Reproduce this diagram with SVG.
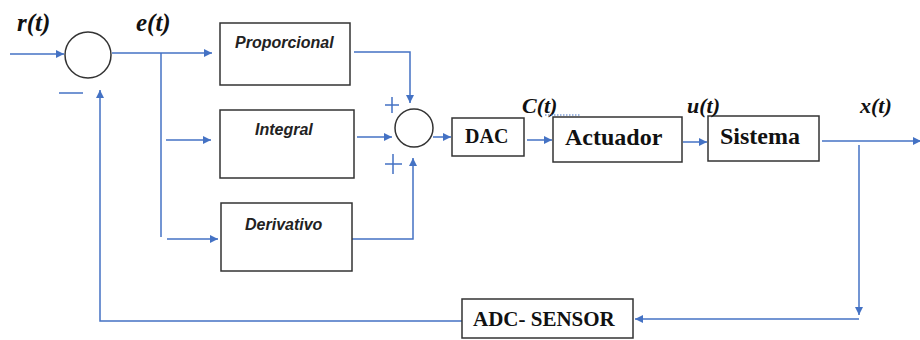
<svg xmlns="http://www.w3.org/2000/svg" width="920" height="340" viewBox="0 0 920 340">
<defs>
<marker id="arr" viewBox="0 0 10 10" refX="10" refY="5" markerWidth="8" markerHeight="8" markerUnits="userSpaceOnUse" orient="auto">
<path d="M0,0 L10,5 L0,10 z" fill="#4472C4"/>
</marker>
<style>
.box{fill:#fff;stroke:#333;stroke-width:1.5}
.sum{fill:#fff;stroke:#333;stroke-width:1.5}
.ln{fill:none;stroke:#4472C4;stroke-width:1.5}
.pid{font-family:"Liberation Sans",Arial,sans-serif;font-weight:bold;font-style:italic;font-size:16px;fill:#222}
.blk{font-family:"Liberation Serif","Times New Roman",serif;font-weight:bold;fill:#111}
.sig{font-family:"Liberation Serif","Times New Roman",serif;font-weight:bold;font-style:italic;fill:#111}
</style>
</defs>
<rect width="920" height="340" fill="#fff"/>

<g id="connectors">
<path class="ln" d="M10,54 L64,54" marker-end="url(#arr)"/>
<path class="ln" d="M112,53 L212,53" marker-end="url(#arr)"/>
<path class="ln" d="M161,53 L161,237"/>
<path class="ln" d="M166,140 L211,140" marker-end="url(#arr)"/>
<path class="ln" d="M167,239 L218,239" marker-end="url(#arr)"/>
<path class="ln" d="M354,52 L410,52 L410,103" marker-end="url(#arr)"/>
<path class="ln" d="M357,137 L392,137" marker-end="url(#arr)"/>
<path class="ln" d="M352,239 L413,239 L413,158" marker-end="url(#arr)"/>
<path class="ln" d="M433,137 L451,137" marker-end="url(#arr)"/>
<path class="ln" d="M527,140 L552,140" marker-end="url(#arr)"/>
<path class="ln" d="M683,142 L707,142" marker-end="url(#arr)"/>
<path class="ln" d="M822,141 L921,141" marker-end="url(#arr)"/>
<path class="ln" d="M859,145 L859,315" marker-end="url(#arr)"/>
<path class="ln" d="M859,319 L635,319" marker-end="url(#arr)"/>
<path class="ln" d="M462,321 L100,321 L100,90" marker-end="url(#arr)"/>
</g>

<g id="sum1">
<circle class="sum" cx="88" cy="55" r="23"/>
<path class="ln" d="M59,93 L83,93"/>
</g>

<g id="sum2">
<circle class="sum" cx="414" cy="128" r="19"/>
<path class="ln" d="M385,105 L399,105 M392,97 L392,113"/>
<path class="ln" d="M385,164 L402,164 M393,154 L393,174"/>
</g>

<g id="proporcional">
<rect class="box" x="220" y="23" width="130" height="62"/>
<text class="pid" x="235" y="48">Proporcional</text>
</g>
<g id="integral">
<rect class="box" x="220" y="110" width="134" height="68"/>
<text class="pid" x="255" y="135">Integral</text>
</g>
<g id="derivativo">
<rect class="box" x="221" y="203" width="131" height="68"/>
<text class="pid" x="245" y="230">Derivativo</text>
</g>
<g id="dac">
<rect class="box" x="452" y="118" width="72" height="38"/>
<text class="blk" x="465" y="143" font-size="20">DAC</text>
</g>
<g id="actuador">
<rect class="box" x="553" y="117" width="129" height="45"/>
<text class="blk" x="565" y="145" font-size="24">Actuador</text>
</g>
<g id="sistema">
<rect class="box" x="708" y="116" width="111" height="45"/>
<text class="blk" x="720" y="144" font-size="24">Sistema</text>
</g>
<g id="adc-sensor">
<rect class="box" x="462" y="299" width="171" height="39"/>
<text class="blk" x="473" y="326" font-size="21">ADC- SENSOR</text>
</g>

<g id="labels">
<text class="sig" x="17" y="31" font-size="25">r(t)</text>
<text class="sig" x="136" y="31" font-size="25">e(t)</text>
<text class="sig" x="522" y="113" font-size="22">C(t)</text>
<path d="M545,115 L580,115" stroke="#4472C4" stroke-width="1.2" stroke-dasharray="1.5,1.5" fill="none"/>
<text class="sig" x="687" y="113" font-size="22">u(t)</text>
<text class="sig" x="860" y="113" font-size="22">x(t)</text>
</g>
</svg>
